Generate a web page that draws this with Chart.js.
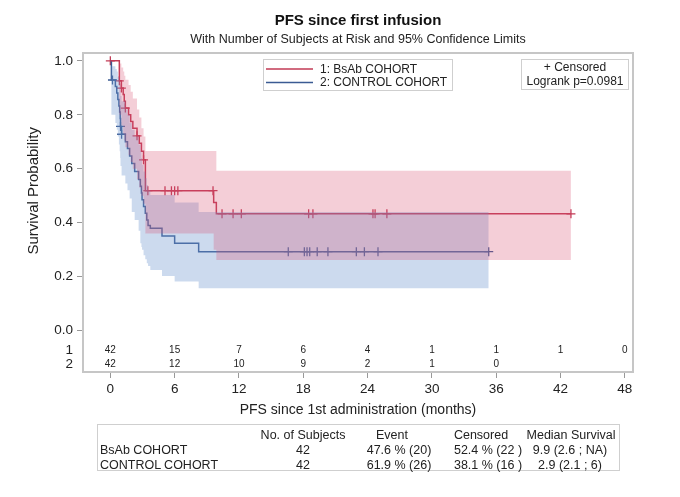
<!DOCTYPE html>
<html><head><meta charset="utf-8">
<script src="https://cdn.jsdelivr.net/npm/chart.js@4.4.0/dist/chart.umd.min.js"></script>
<style>
html,body{margin:0;padding:0;background:#fff;}
#wrap{position:relative;width:680px;height:497px;font-family:"Liberation Sans",Arial,sans-serif;color:#222;}
#c{position:absolute;left:0;top:0;}
#tbl{position:absolute;left:97px;top:424px;width:523px;height:47px;border:1px solid #cfcfcf;box-sizing:border-box;font-size:12.5px;}
#tbl div{position:absolute;white-space:nowrap;line-height:14px;}
.ctr{transform:translateX(-50%);}
</style></head>
<body>
<div id="wrap">
<canvas id="c" width="680" height="497"></canvas>
<div id="tbl"></div>
</div>
<script>
// ---- Kaplan-Meier data (time in months, survival probability) ----
const kmTime1  = [0, 0.84, 1.03, 1.2, 1.3, 1.4, 1.7, 1.9, 2.1, 2.49, 2.7, 2.9, 3.1, 3.27, 9.64, 9.89, 42.97];
const kmSurv1  = [1.0, 0.926, 0.899, 0.875, 0.85, 0.825, 0.80, 0.775, 0.75, 0.722, 0.695, 0.665, 0.633, 0.519, 0.475, 0.433, 0.433];
const kmUpper1 = [1.0, 0.99, 0.975, 0.96, 0.945, 0.93, 0.91, 0.885, 0.86, 0.82, 0.79, 0.75, 0.72, 0.666, 0.666, 0.593, 0.593];
const kmLower1 = [1.0, 0.80, 0.76, 0.73, 0.705, 0.68, 0.65, 0.625, 0.60, 0.56, 0.53, 0.50, 0.47, 0.36, 0.30, 0.262, 0.262];

const kmTime2  = [0, 0.1, 0.47, 0.6, 0.7, 0.8, 0.87, 0.92, 0.95, 1.05, 1.4, 1.6, 1.8, 2.0, 2.27, 2.64, 2.8, 2.9, 2.96, 3.1, 3.26, 3.4, 3.52, 3.73, 4.82, 6.0, 8.24, 35.3];
const kmSurv2  = [1.0, 0.929, 0.905, 0.881, 0.857, 0.833, 0.81, 0.786, 0.757, 0.728, 0.70, 0.675, 0.647, 0.62, 0.59, 0.56, 0.535, 0.51, 0.485, 0.46, 0.435, 0.41, 0.39, 0.38, 0.351, 0.324, 0.293, 0.293];
const kmUpper2 = [1.0, 0.98, 0.97, 0.96, 0.94, 0.93, 0.91, 0.89, 0.87, 0.85, 0.82, 0.80, 0.77, 0.745, 0.72, 0.69, 0.665, 0.64, 0.615, 0.59, 0.565, 0.54, 0.52, 0.503, 0.503, 0.475, 0.44, 0.44];
const kmLower2 = [1.0, 0.80, 0.77, 0.745, 0.72, 0.69, 0.665, 0.64, 0.61, 0.575, 0.545, 0.52, 0.49, 0.44, 0.41, 0.37, 0.324, 0.31, 0.30, 0.28, 0.265, 0.25, 0.24, 0.225, 0.203, 0.182, 0.157, 0.157];

// censored observations
const cenTime1 = [0, 0.84, 1.03, 1.4, 2.49, 3.1, 3.5, 5.1, 5.7, 6.0, 6.3, 9.58, 10.42, 11.45, 12.22, 18.5, 18.9, 24.5, 24.7, 25.8, 42.97];
const cenSurv1 = [1.0, 0.926, 0.899, 0.825, 0.722, 0.633, 0.519, 0.519, 0.519, 0.519, 0.519, 0.519, 0.433, 0.433, 0.433, 0.433, 0.433, 0.433, 0.433, 0.433, 0.433];
const cenTime2 = [0.2, 0.95, 1.05, 16.6, 18.1, 18.35, 18.6, 19.3, 20.3, 22.95, 23.7, 24.97, 35.3];
const cenSurv2 = [0.929, 0.757, 0.728, 0.293, 0.293, 0.293, 0.293, 0.293, 0.293, 0.293, 0.293, 0.293, 0.293];

// number at risk
const xTickVals = [0, 6, 12, 18, 24, 30, 36, 42, 48];
const atRisk1 = [42, 15, 7, 6, 4, 1, 1, 1, 0];
const atRisk2 = [42, 12, 10, 9, 2, 1, 0, null, null];
const yTickVals = [0, 0.2, 0.4, 0.6, 0.8, 1.0];

// summary table
const tblGroups = ['BsAb COHORT', 'CONTROL COHORT'];
const tblSubjects = [42, 42];
const tblEvent = ['47.6 % (20)', '61.9 % (26)'];
const tblCensored = ['52.4 % (22 )', '38.1 % (16 )'];
const tblMedian = ['9.9 (2.6 ; NA)', '2.9 (2.1 ; 6)'];
const tblHeaders = ['No. of Subjects', 'Event', 'Censored', 'Median Survival'];

const seriesNames = ['1: BsAb COHORT', '2: CONTROL COHORT'];
const titleText = 'PFS since first infusion';
const subtitleText = 'With Number of Subjects at Risk and 95% Confidence Limits';
const xTitle = 'PFS since 1st administration (months)';
const yTitle = 'Survival Probability';
const statLines = ['+ Censored', 'Logrank p=0.0981'];

// ---- styling / layout ----
const FONT = '"Liberation Sans", Arial, sans-serif';
const RED = '#c23a55', BLUE = '#3b5b93';
const RED_FILL = 'rgba(215,80,110,0.28)', BLUE_FILL = 'rgba(110,150,205,0.35)';
const ROW1 = -0.073, ROW2 = -0.123;

const pts = (t, v) => t.map((x, i) => ({x: x, y: v[i]}));

const band = (t, v, fill, col) => ({
  type: 'line', data: pts(t, v), stepped: 'before', borderWidth: 0, borderColor: 'rgba(0,0,0,0)',
  pointRadius: 0, fill: fill, backgroundColor: col, tension: 0
});

const decor = {
  id: 'decor',
  afterDraw(chart) {
    const {ctx, chartArea: a, scales: {x, y}} = chart;
    ctx.save();
    // frame
    ctx.strokeStyle = '#c6c6c6'; ctx.lineWidth = 2;
    ctx.strokeRect(a.left, a.top, a.right - a.left, a.bottom - a.top);
    // titles
    const cx = (a.left + a.right) / 2;
    ctx.fillStyle = '#111'; ctx.textAlign = 'center'; ctx.textBaseline = 'middle';
    ctx.font = 'bold 15px ' + FONT; ctx.fillText(titleText, cx, 21);
    ctx.font = '12.5px ' + FONT; ctx.fillStyle = '#222'; ctx.fillText(subtitleText, cx, 40);
    // y title
    ctx.save(); ctx.translate(34, (y.getPixelForValue(0) + y.getPixelForValue(1)) / 2 - 5);
    ctx.rotate(-Math.PI / 2); ctx.font = '15px ' + FONT; ctx.fillText(yTitle, 0, 0); ctx.restore();
    // at-risk numbers
    ctx.font = '10px ' + FONT; ctx.fillStyle = '#222';
    xTickVals.forEach((t, i) => {
      const px = x.getPixelForValue(t);
      if (atRisk1[i] != null) ctx.fillText(String(atRisk1[i]), px, y.getPixelForValue(ROW1));
      if (atRisk2[i] != null) ctx.fillText(String(atRisk2[i]), px, y.getPixelForValue(ROW2));
    });
    // legend box
    ctx.lineWidth = 1; ctx.strokeStyle = '#cfcfcf';
    ctx.fillStyle = '#fff'; ctx.fillRect(263.5, 59.5, 189, 31); ctx.strokeRect(263.5, 59.5, 189, 31);
    [[RED, 69], [BLUE, 82.5]].forEach(([c, yy], i) => {
      ctx.strokeStyle = c; ctx.lineWidth = 1.5;
      ctx.beginPath(); ctx.moveTo(266, yy); ctx.lineTo(313, yy); ctx.stroke();
      ctx.fillStyle = '#222'; ctx.textAlign = 'left'; ctx.font = '12px ' + FONT;
      ctx.fillText(seriesNames[i], 320, yy + 0.5);
    });
    ctx.lineWidth = 1; ctx.strokeStyle = '#cfcfcf';
    ctx.fillStyle = '#fff'; ctx.fillRect(521.5, 59.5, 107, 30); ctx.strokeRect(521.5, 59.5, 107, 30);
    ctx.fillStyle = '#222'; ctx.textAlign = 'center';
    ctx.fillText(statLines[0], 575, 67.5);
    ctx.fillText(statLines[1], 575, 82);
    ctx.restore();
  }
};

new Chart(document.getElementById('c'), {
  type: 'line',
  data: {
    datasets: [
      band(kmTime1, kmUpper1, '+1', RED_FILL),
      band(kmTime1, kmLower1, false, RED_FILL),
      band(kmTime2, kmUpper2, '+1', BLUE_FILL),
      band(kmTime2, kmLower2, false, BLUE_FILL),
      {type: 'line', data: pts(kmTime1, kmSurv1), stepped: 'before', borderColor: RED, borderWidth: 1.5, pointRadius: 0, fill: false},
      {type: 'line', data: pts(kmTime2, kmSurv2), stepped: 'before', borderColor: BLUE, borderWidth: 1.5, pointRadius: 0, fill: false},
      {type: 'scatter', data: pts(cenTime1, cenSurv1), showLine: false, pointStyle: 'cross', pointRadius: 4.5, borderColor: RED, borderWidth: 1.3},
      {type: 'scatter', data: pts(cenTime2, cenSurv2), showLine: false, pointStyle: 'cross', pointRadius: 4.5, borderColor: BLUE, borderWidth: 1.3}
    ]
  },
  options: {
    responsive: false, animation: false, devicePixelRatio: 1,
    layout: {padding: {left: 0, right: 47, top: 53, bottom: 73}},
    plugins: {legend: {display: false}, tooltip: {enabled: false}, title: {display: false}},
    scales: {
      x: {
        type: 'linear', min: -2.55, max: 48.76,
        afterBuildTicks: s => { s.ticks = xTickVals.map(v => ({value: v})); },
        afterFit: s => { s.height = 52; },
        grid: {drawOnChartArea: false, drawTicks: true, tickLength: 6, tickColor: '#999'},
        border: {display: false},
        ticks: {font: {size: 13.5, family: FONT}, color: '#222', padding: 3, maxRotation: 0,
                callback: v => String(v)},
        title: {display: true, text: xTitle, font: {size: 14, family: FONT}, color: '#222', padding: {top: 0, bottom: 5.6}}
      },
      y: {
        type: 'linear', min: -0.153, max: 1.029,
        afterBuildTicks: s => { s.ticks = [ROW2, ROW1].concat(yTickVals).map(v => ({value: v})); },
        afterFit: s => { s.width = 83; },
        grid: {drawOnChartArea: false, drawTicks: true, tickLength: 6,
               tickColor: c => (c.tick && c.tick.value < 0) ? 'rgba(0,0,0,0)' : '#999'},
        border: {display: false},
        ticks: {font: {size: 13.5, family: FONT}, color: '#222', padding: 4,
                callback: v => v === ROW1 ? '1' : (v === ROW2 ? '2' : v.toFixed(1))}
      }
    }
  },
  plugins: [decor]
});

// summary table
(function () {
  const tbl = document.getElementById('tbl');
  const rowsY = [2.5, 18, 32.5];
  const colX = [205, 294, 383, 473];
  const add = (txt, x, y, center) => {
    const d = document.createElement('div');
    d.textContent = txt; d.style.left = x + 'px'; d.style.top = y + 'px';
    if (center) d.className = 'ctr';
    tbl.appendChild(d);
  };
  tblHeaders.forEach((h, i) => add(h, colX[i], rowsY[0], true));
  tblGroups.forEach((g, r) => {
    const y = rowsY[r + 1];
    add(g, 2, y, false);
    add(String(tblSubjects[r]), colX[0], y, true);
    add(tblEvent[r], colX[1] + 7, y, true);
    add(tblCensored[r], colX[2] + 7, y, true);
    add(tblMedian[r], colX[3] - 1, y, true);
  });
})();
</script>
</body></html>
